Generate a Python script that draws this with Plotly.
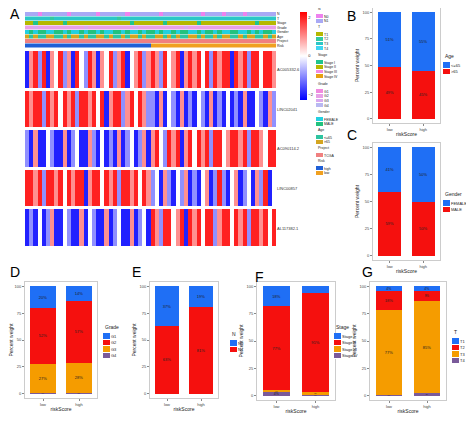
import plotly.graph_objects as go

W, H = 474, 424
PAD = 8  # page body margin around the figure

# ---- panel A data ----
genes = ["AC005332.6", "LINC02041", "AC090114.2", "LINC00857", "AL117382.1"]
g1 = [-2, 1, 2, -1, 2, -2, 1, 0, 2, -1, 1, -2, 2, 0, -1, 2, 1, -2, 1, 0,
      2, -1, 1, 2, -2, 0, 1, 2, -1, 1, 2, 1, -1, 2, 0, 1, 2, -2, 1, 2,
      1, 2, 0, 2, -1, 2, 1, 2, 2, -2, 2, 1, 2, -1, 2, 2, 0, 2, 2, 1]
g2 = [2, 1, 2, 2, -1, 2, 1, 2, 0, 2, 1, 2, -1, 2, 2, 1, 2, 0, 2, -2,
      1, 2, 2, -1, 1, 2, 0, 2, 1, -1, -1, -2, 1, -2, 0, -1, -2, 1, -2, -1,
      -2, 0, -1, -2, 1, -2, -1, -2, 0, -2, -1, -2, 1, -2, -2, 0, -1, -2, 1, -1]
g3 = [-1, -2, 1, -2, -2, 0, -1, -2, -2, 1, -2, -1, 0, -2, -2, 1, -1, -2, 0, -2,
      -1, -2, 1, -2, -1, 0, -2, -1, 1, -2, 1, 2, 0, -1, 2, 1, 2, -2, 1, 2,
      0, 2, 1, 2, -1, 2, 2, 0, 1, 2, 2, 1, 2, -1, 2, 2, 1, 0, 2, 2]
g4 = [2, 2, 1, 2, -1, 2, 2, 1, 2, 0, 2, 1, 2, 2, -2, 1, 2, 2, 0, 2,
      1, 2, -1, 2, 2, 1, 2, 0, 2, 1, -1, 0, -2, 1, -1, -2, 0, -1, 1, -2,
      -1, -2, 0, 1, -2, -1, 2, -1, -2, 0, 1, -2, -1, 0, -2, 1, -1, 2, -2, 0]
g5 = [-2, -1, -2, 0, -2, -1, 1, -2, -2, 0, -1, -2, -2, 1, -2, 0, -1, -2, -2, 1,
      -2, -1, 0, -2, -2, 1, -2, -1, 0, -2, 2, 1, -1, 2, 2, 0, 1, 2, -2, 2,
      1, 2, 0, 2, 2, -1, 1, 2, 2, 0, 2, 1, 2, -1, 2, 2, 1, 2, 0, 2]

tracks = ["N", "T", "Stage", "Grade", "Gender", "Age", "Project", "Risk"]
track_levels = {
    "N": ["N0", "N1"],
    "T": ["T1", "T2", "T3", "T4"],
    "Stage": ["Stage I", "Stage II", "Stage III", "Stage IV"],
    "Grade": ["G1", "G2", "G3", "G4"],
    "Gender": ["FEMALE", "MALE"],
    "Age": ["<=65", ">65"],
    "Project": ["TCGA"],
    "Risk": ["high", "low"],
}
track_colors = {
    "N": ["#EE82EE", "#A9A9F5"],
    "T": ["#B5B800", "#33C9A0", "#2BC7C7", "#3FD6F2"],
    "Stage": ["#1FC48E", "#B5B800", "#F08AE8", "#E8A010"],
    "Grade": ["#F08AE0", "#E8A0E8", "#D8A8F0", "#B8B8F2"],
    "Gender": ["#22D0E0", "#22C27E"],
    "Age": ["#2EC4A0", "#D4A520"],
    "Project": ["#F08080"],
    "Risk": ["#1F5FD6", "#F0A020"],
}
track_codes = {
    "N": "111011111101111110111111011111110111111111011110111101111111",
    "T": "222222122222222222222212222222222222222222222222222222222222",
    "Stage": "110111111011111111111111101111111011111110111111111111101111",
    "Grade": "112111111111112111111111112111111111112111111111111111211111",
    "Gender": "010110011010010110100110100101101001011001011010011001010110",
    "Age": "101001100101101001101001011010011010100110100101100101100101",
    "Project": "000000000000000000000000000000000000000000000000000000000000",
    "Risk": "000000000000000000000000000000111111111111111111111111111111",
}

# ---- bar panels (percent) ----
risk_groups = ["low", "high"]
age_lv = ["<=65", ">65"]
age_pct = {"<=65": [51, 55], ">65": [49, 45]}
gender_lv = ["FEMALE", "MALE"]
gender_pct = {"FEMALE": [41, 50], "MALE": [59, 50]}
grade_lv = ["G1", "G2", "G3", "G4"]
grade_pct = {"G1": [20, 14], "G2": [52, 57], "G3": [27, 28], "G4": [1, 1]}
n_lv = ["N0", "N1"]
n_pct = {"N0": [37, 19], "N1": [63, 81]}
stage_lv = ["Stage I", "Stage II", "Stage III", "Stage IV"]
stage_pct = {"Stage I": [18, 6], "Stage II": [77, 91], "Stage III": [1, 2], "Stage IV": [4, 1]}
t_lv = ["T1", "T2", "T3", "T4"]
t_pct = {"T1": [4, 4], "T2": [18, 9], "T3": [77, 85], "T4": [1, 2]}

bar_cols4 = ["#1F6FF5", "#F5100E", "#F59C00", "#7A5A9A"]
bar_cols2 = ["#1F6FF5", "#F5100E"]

FW, FH = W - 2 * PAD, H - 2 * PAD - 2


def fx(p):
    return (p - PAD) / FW


def fy(p):
    return 1 - (p - PAD) / FH


def px_x(a, b):
    return [max(fx(a), 0), min(fx(b), 1)]


def px_y(top, bottom):
    return [max(fy(bottom), 0), min(fy(top), 1)]


def discrete_scale(cols):
    n = len(cols)
    cs = []
    for i, c in enumerate(cols):
        cs += [[i / n, c], [(i + 1) / n, c]]
    return cs


fig = go.Figure()
lay = {}
annotations = []
ax_id = [10]


def legend_block(title, levels, cols, xl, top, key=5.0, keyw=7, tsize=4, lsize=4):
    # legend drawn as a tiny heatmap column with labels on the right
    n = ax_id[0]
    ax_id[0] += 1
    lay[f"xaxis{n}"] = dict(domain=px_x(xl, xl + keyw), anchor=f"y{n}", visible=False,
                            range=[-0.5, 0.5], fixedrange=True)
    lay[f"yaxis{n}"] = dict(domain=px_y(top + 5, top + 5 + key * len(levels)), anchor=f"x{n}",
                            side="right", range=[len(levels) - 0.5, -0.5], showgrid=False,
                            zeroline=False, tickvals=list(range(len(levels))), ticktext=levels,
                            ticks="", tickfont=dict(size=lsize, color="#222"),
                            automargin=False, fixedrange=True)
    fig.add_trace(go.Heatmap(z=[[i] for i in range(len(levels))], x=[0],
                             y=list(range(len(levels))), xaxis=f"x{n}", yaxis=f"y{n}",
                             colorscale=discrete_scale(cols), zmin=-0.5,
                             zmax=len(cols) - 0.5, showscale=False, ygap=1,
                             hoverinfo="skip"))
    annotations.append(dict(text=title, x=fx(xl), y=fy(top + 4), xref="paper",
                            yref="paper", xanchor="left", yanchor="bottom", showarrow=False,
                            font=dict(size=tsize, color="#222")))


# ---- A: heatmap ----
xs = list(range(len(g1)))
lay["xaxis"] = dict(domain=px_x(25, 276), showticklabels=False, showgrid=False,
                    zeroline=False, range=[-0.5, len(xs) - 0.5])
lay["yaxis"] = dict(domain=px_y(50, 248), side="right", showgrid=False, zeroline=False,
                    autorange="reversed", tickfont=dict(size=4, color="#333"), ticklen=0,
                    automargin=False)
fig.add_trace(go.Heatmap(
    z=[g1, g2, g3, g4, g5], x=xs, y=genes, xaxis="x", yaxis="y",
    colorscale=[[0, "#0000FF"], [0.5, "#FFFFFF"], [1, "#FF0000"]],
    zmin=-2.3, zmax=2.3, ygap=3, hoverinfo="skip",
    colorbar=dict(x=fx(300), xanchor="left", y=fy(12), yanchor="top",
                  len=88 / FH, thickness=7, outlinewidth=0, xpad=0, ypad=0,
                  tickvals=[-2, 0, 2], tickfont=dict(size=4), ticklen=0),
))

lay["xaxis2"] = dict(domain=px_x(25, 276), showticklabels=False, showgrid=False,
                     zeroline=False, range=[-0.5, len(xs) - 0.5], anchor="y2")
lay["yaxis2"] = dict(domain=px_y(12, 48), side="right", showgrid=False, zeroline=False,
                     range=[7.5, -0.5], tickfont=dict(size=3.5, color="#222"),
                     ticklen=0, anchor="x2", tickvals=list(range(8)), ticktext=tracks,
                     automargin=False)

leg_tops = [9, 27, 55, 84, 112, 130, 148, 161]
for ti, tname in enumerate(tracks):
    cols = track_colors[tname]
    fig.add_trace(go.Heatmap(
        z=[[int(ch) for ch in track_codes[tname]]], x=xs, y=[ti],
        xaxis="x2", yaxis="y2", colorscale=discrete_scale(cols), zmin=-0.5,
        zmax=len(cols) - 0.5, showscale=False, ygap=1, hoverinfo="skip"))
    legend_block(tname, track_levels[tname], cols, 316, leg_tops[ti], key=4.8, tsize=3.5,
                 lsize=3.5)

# ---- bar panels ----
panels = [
    ("Age", age_lv, age_pct, bar_cols2, (373, 440, 5, 123), (443, 57)),
    ("Gender", gender_lv, gender_pct, bar_cols2, (373, 440, 143, 260), (443, 195)),
    ("Grade", grade_lv, grade_pct, bar_cols4, (25, 97, 282, 398), (103, 328)),
    ("N", n_lv, n_pct, bar_cols2, (150, 218, 282, 398), (230, 335)),
    ("Stage", stage_lv, stage_pct, bar_cols4, (257, 335, 282, 400), (334, 328)),
    ("T", t_lv, t_pct, bar_cols4, (370, 446, 282, 400), (452, 333)),
]
for k, (title, levels, pct, cols, box, lpos) in enumerate(panels):
    ax = k + 3
    xa, ya = f"x{ax}", f"y{ax}"
    x0, x1, t0, t1 = box
    lay[f"xaxis{ax}"] = dict(domain=px_x(x0, x1), anchor=ya, showgrid=False, zeroline=False,
                             mirror=True, showline=True, linecolor="#CCCCCC", linewidth=0.8,
                             ticks="outside", ticklen=2, tickcolor="#888", automargin=False,
                             tickfont=dict(size=4, color="#444"),
                             title=dict(text="riskScore", font=dict(size=5), standoff=1))
    lay[f"yaxis{ax}"] = dict(domain=px_y(t0, t1), anchor=xa, range=[-4, 104], showgrid=False,
                             zeroline=False, mirror=True, showline=True, linecolor="#CCCCCC",
                             linewidth=0.8, tickvals=[0, 25, 50, 75, 100], ticks="outside",
                             ticklen=2, tickcolor="#888", tickfont=dict(size=4, color="#444"),
                             automargin=False,
                             title=dict(text="Percent weight", font=dict(size=5), standoff=2))
    for lv, c in reversed(list(zip(levels, cols))):
        fig.add_trace(go.Bar(
            x=risk_groups, y=pct[lv], name=lv, marker=dict(color=c, line=dict(width=0)),
            text=[f"{v}%" for v in pct[lv]], textposition="inside", insidetextanchor="middle",
            textfont=dict(size=4, color="#222"), xaxis=xa, yaxis=ya, width=0.7,
            showlegend=False))
    legend_block(title, levels, cols, lpos[0], lpos[1], key=6.5, tsize=5, lsize=4)

letters = [("A", 8, 4), ("B", 345, 6), ("C", 345, 125), ("D", 8, 262),
           ("E", 130, 262), ("F", 253, 267), ("G", 360, 262)]
annotations += [dict(text=t, x=fx(xp), y=fy(yp), xref="paper", yref="paper",
                     showarrow=False, font=dict(size=14, color="black"), xanchor="left",
                     yanchor="top")
                for t, xp, yp in letters]

fig.update_layout(**lay)
fig.update_layout(width=FW, height=FH, margin=dict(l=0, r=0, t=0, b=0),
                  plot_bgcolor="white", paper_bgcolor="white", barmode="stack",
                  bargap=0.3, showlegend=False,
                  font=dict(family="Liberation Sans", color="#222"),
                  annotations=annotations)
fig.write_html("out.html")
